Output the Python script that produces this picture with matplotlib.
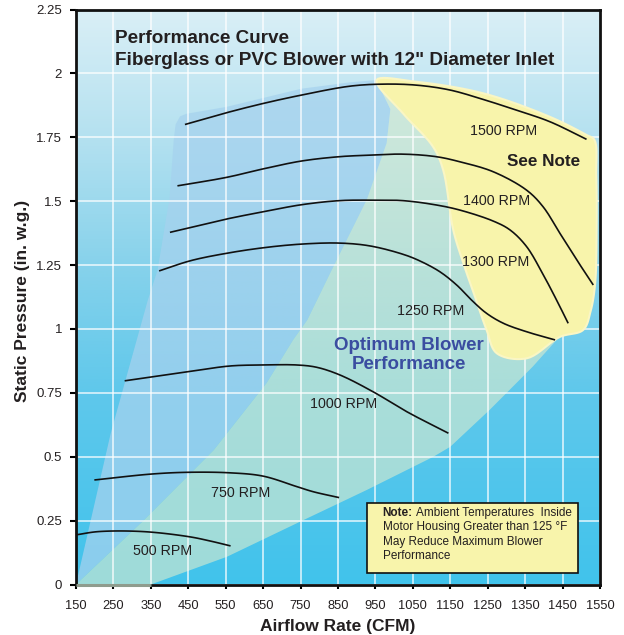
import numpy as np
import matplotlib
matplotlib.use('Agg')
import matplotlib.pyplot as plt
from matplotlib.patches import Polygon, Rectangle

plt.rcParams['font.family'] = ['Liberation Sans', 'DejaVu Sans']

# ---------------- data ----------------
x_ticks = list(range(150, 1551, 100))
y_ticks = [0, 0.25, 0.5, 0.75, 1, 1.25, 1.5, 1.75, 2, 2.25]
y_tick_labels = ['0', '0.25', '0.5', '0.75', '1', '1.25', '1.5', '1.75', '2', '2.25']

rpm1500_x = [441, 552, 652, 752, 882, 971, 1060, 1149, 1238, 1327, 1416, 1514]
rpm1500_y = [1.800, 1.846, 1.883, 1.915, 1.950, 1.958, 1.954, 1.935, 1.898, 1.856, 1.811, 1.742]

rpm1400_x = [421, 552, 652, 752, 853, 935, 1024, 1113, 1176, 1265, 1354, 1398, 1443, 1488, 1532]
rpm1400_y = [1.560, 1.593, 1.627, 1.657, 1.674, 1.680, 1.684, 1.674, 1.654, 1.615, 1.543, 1.478, 1.374, 1.270, 1.172]

rpm1300_x = [401, 552, 652, 752, 853, 935, 1024, 1113, 1176, 1265, 1310, 1354, 1398, 1434, 1465]
rpm1300_y = [1.378, 1.430, 1.459, 1.486, 1.502, 1.504, 1.502, 1.485, 1.465, 1.422, 1.387, 1.322, 1.213, 1.113, 1.022]

rpm1250_x = [372, 456, 552, 652, 752, 853, 935, 1024, 1069, 1122, 1167, 1211, 1247, 1292, 1354, 1430]
rpm1250_y = [1.227, 1.267, 1.296, 1.318, 1.332, 1.336, 1.325, 1.292, 1.266, 1.224, 1.172, 1.107, 1.061, 1.022, 0.989, 0.957]

rpm1000_x = [280, 452, 561, 650, 740, 793, 855, 944, 1034, 1145]
rpm1000_y = [0.797, 0.833, 0.855, 0.859, 0.859, 0.850, 0.820, 0.754, 0.676, 0.592]

rpm750_x = [199, 350, 447, 561, 650, 740, 784, 853]
rpm750_y = [0.409, 0.432, 0.439, 0.437, 0.424, 0.383, 0.363, 0.340]

rpm500_x = [153, 210, 330, 452, 509, 563]
rpm500_y = [0.195, 0.207, 0.207, 0.187, 0.170, 0.151]

curve_labels = ['1500 RPM', '1400 RPM', '1300 RPM', '1250 RPM', '1000 RPM', '750 RPM', '500 RPM']
label_x = [1293, 1274, 1272, 1097, 866, 591, 382]
label_y = [1.774, 1.501, 1.260, 1.070, 0.706, 0.358, 0.131]

# regions
blue_x = [150, 243, 342, 368, 400, 411, 416, 428, 445, 552, 752, 882, 953,
          990, 980, 927, 837, 768, 730, 660, 518, 330]
blue_y = [0, 0.593, 1.113, 1.230, 1.513, 1.738, 1.800, 1.832, 1.842, 1.869, 1.940, 1.965, 1.974,
          1.86, 1.727, 1.506, 1.242, 1.035, 0.957, 0.79, 0.526, 0.25]

green_x = [150, 350, 554, 749, 927, 1105, 1150, 1255, 1370, 1450, 1490, 1510, 1515, 1490, 1300,
           1100, 953, 990, 980, 927, 837, 768, 730, 660, 518, 330]
green_y = [0, 0, 0.109, 0.246, 0.370, 0.500, 0.539, 0.683, 0.852, 0.983, 1.05, 1.2, 1.6, 1.74, 1.88,
           1.93, 1.97, 1.86, 1.727, 1.506, 1.242, 1.035, 0.957, 0.79, 0.526, 0.25]

yellow_x = [953, 1060, 1238, 1416, 1514, 1535, 1540, 1541, 1537, 1525, 1505, 1443, 1354, 1274,
            1247, 1216, 1185, 1158, 1131, 1104, 1024]
yellow_y = [1.974, 1.967, 1.922, 1.830, 1.759, 1.740, 1.600, 1.400, 1.178, 1.070, 0.996, 0.969, 0.885, 0.905,
            0.996, 1.126, 1.257, 1.387, 1.622, 1.713, 1.843]

note_box = (927, 0.046, 1492, 0.320)

# pixel scale used only to make the drawn spline through the read points even
SX, SY = 0.3743, 255.6


def spline_path(xs, ys, n=16, closed=False):
    """Centripetal Catmull-Rom path passing through every given point."""
    P = np.column_stack([np.asarray(xs, float) * SX, np.asarray(ys, float) * SY])
    if closed:
        P = np.vstack([P[-1], P, P[0], P[1]])
    else:
        P = np.vstack([2 * P[0] - P[1], P, 2 * P[-1] - P[-2]])
    out = []
    for i in range(1, len(P) - 2):
        p0, p1, p2, p3 = P[i - 1], P[i], P[i + 1], P[i + 2]
        t0 = 0.0
        t1 = t0 + max(np.linalg.norm(p1 - p0), 1e-6) ** 0.5
        t2 = t1 + max(np.linalg.norm(p2 - p1), 1e-6) ** 0.5
        t3 = t2 + max(np.linalg.norm(p3 - p2), 1e-6) ** 0.5
        t = np.linspace(t1, t2, n, endpoint=False)[:, None]
        A1 = (t1 - t) / (t1 - t0) * p0 + (t - t0) / (t1 - t0) * p1
        A2 = (t2 - t) / (t2 - t1) * p1 + (t - t1) / (t2 - t1) * p2
        A3 = (t3 - t) / (t3 - t2) * p2 + (t - t2) / (t3 - t2) * p3
        B1 = (t2 - t) / (t2 - t0) * A1 + (t - t0) / (t2 - t0) * A2
        B2 = (t3 - t) / (t3 - t1) * A2 + (t - t1) / (t3 - t1) * A3
        out.append((t2 - t) / (t2 - t1) * B1 + (t - t1) / (t2 - t1) * B2)
    if not closed:
        out.append(P[-2][None, :])
    C = np.vstack(out)
    return C[:, 0] / SX, C[:, 1] / SY


# ---------------- figure ----------------
TXT = '#231f20'
fig = plt.figure(figsize=(6.24, 6.35), dpi=100)
ax = fig.add_axes([76 / 624, (635 - 584.5) / 635, 524 / 624, 575 / 635])

# background gradient
yy = np.linspace(0, 2.25, 300)
stops_y = [0, 0.75, 1.25, 1.75, 2.25]
stops_c = np.array([[65, 195, 236], [95, 200, 235], [135, 210, 235],
                    [180, 225, 240], [218, 239, 246]]) / 255
grad = np.stack([np.interp(yy, stops_y, stops_c[:, i]) for i in range(3)], axis=-1)[:, None, :]
ax.imshow(grad, extent=[150, 1550, 0, 2.25], origin='lower', aspect='auto',
          zorder=0, interpolation='bilinear')

ax.add_patch(Polygon(np.column_stack([blue_x, blue_y]), closed=True,
                     facecolor=(166 / 255, 210 / 255, 238 / 255), alpha=0.73,
                     edgecolor='none', zorder=1))
ax.add_patch(Polygon(np.column_stack([green_x, green_y]), closed=True,
                     facecolor=(216 / 255, 235 / 255, 206 / 255), alpha=0.62,
                     edgecolor='none', zorder=1.1))

ax.set_axisbelow(False)
ax.grid(True, color='white', lw=1.1, alpha=0.85)

yx, yyv = spline_path(yellow_x, yellow_y, n=10, closed=True)
ax.add_patch(Polygon(np.column_stack([yx, yyv]), closed=True,
                     facecolor='#f8f4ab', edgecolor='#faf6c4', lw=1.5, zorder=3))

for xs, ys in [(rpm1500_x, rpm1500_y), (rpm1400_x, rpm1400_y), (rpm1300_x, rpm1300_y),
               (rpm1250_x, rpm1250_y), (rpm1000_x, rpm1000_y), (rpm750_x, rpm750_y),
               (rpm500_x, rpm500_y)]:
    sx, sy = spline_path(xs, ys)
    ax.plot(sx, sy, color='#111111', lw=1.2, zorder=4, solid_capstyle='butt')

for t, lx, ly in zip(curve_labels, label_x, label_y):
    ax.text(lx, ly, t, ha='center', va='center', fontsize=10.3, color=TXT, zorder=5)

ax.text(1399, 1.657, 'See Note', ha='center', va='center', fontsize=12.3,
        fontweight='bold', color=TXT, zorder=5)
ax.text(1039, 0.897, 'Optimum Blower\nPerformance', ha='center', va='center',
        fontsize=13.5, fontweight='bold', color='#3a4da0', linespacing=1.15, zorder=5)

ax.text(254, 2.136, 'Performance Curve', ha='left', va='center', fontsize=13.6,
        fontweight='bold', color=TXT, zorder=5)
ax.text(254, 2.050, 'Fiberglass or PVC Blower with 12" Diameter Inlet', ha='left',
        va='center', fontsize=13.6, fontweight='bold', color=TXT, zorder=5)

# note box
x0, y0, x1, y1 = note_box
ax.add_patch(Rectangle((x0, y0), x1 - x0, y1 - y0, facecolor='#f8f4ab',
                       edgecolor='#111111', lw=1.2, zorder=5))
ax.text(969, 0.279, 'Note:', ha='left', va='center', fontsize=8.5,
        fontweight='bold', color=TXT, zorder=6)
ax.text(1058, 0.279, 'Ambient Temperatures  Inside', ha='left', va='center',
        fontsize=8.5, color=TXT, zorder=6)
for i, line in enumerate(['Motor Housing Greater than 125 \u00b0F',
                          'May Reduce Maximum Blower', 'Performance']):
    ax.text(969, 0.279 - (i + 1) * 0.0556, line, ha='left', va='center',
            fontsize=8.5, color=TXT, zorder=6)

ax.set_xlim(150, 1550)
ax.set_ylim(0, 2.25)
ax.set_xticks(x_ticks)
ax.set_yticks(y_ticks)
ax.set_yticklabels(y_tick_labels)
ax.tick_params(axis='x', direction='out', length=3, width=1.5, pad=8,
               labelsize=9.3, labelcolor=TXT)
ax.tick_params(axis='y', direction='out', length=4, width=1.5, pad=6,
               labelsize=9.5, labelcolor=TXT)
for s in ax.spines.values():
    s.set_linewidth(2.0)
    s.set_color('#111111')
    s.set_zorder(7)

ax.plot([150, 350], [0, 0], color='#8f9c8e', lw=2.2, zorder=8, clip_on=False,
        solid_capstyle='butt')

fig.text(337.5 / 624, (635 - 626) / 635, 'Airflow Rate (CFM)', ha='center', va='center',
         fontsize=12.5, fontweight='bold', color=TXT)
fig.text(22.5 / 624, (635 - 301) / 635, 'Static Pressure (in. w.g.)', ha='center',
         va='center', rotation=90, fontsize=12.5, fontweight='bold', color=TXT)

fig.savefig('out.png', dpi=100)
